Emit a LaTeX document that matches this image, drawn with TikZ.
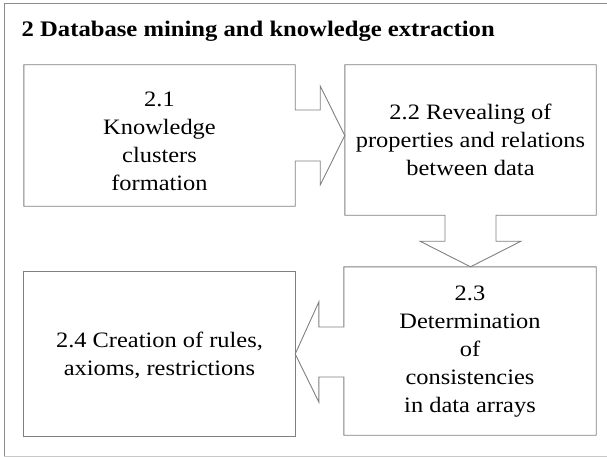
\documentclass[tikz,border=0pt]{standalone}
\usepackage{fontspec}
\setmainfont[FakeStretch=1.11]{Liberation Serif}
\usetikzlibrary{calc}
\definecolor{linegray}{RGB}{128,128,128}
\definecolor{framegray}{RGB}{140,140,140}
\definecolor{lightframe}{RGB}{200,200,200}
\tikzset{
  boxnode/.style={rectangle, draw=none, inner sep=0pt},
  boxtext/.style={inner sep=0pt, align=center, font=\fontsize{22}{28}\selectfont},
  outline/.style={draw=linegray, line width=0.9pt, line join=miter},
}
\begin{document}
\begin{tikzpicture}[x=1pt,y=-1pt]
\useasboundingbox (0,0) rectangle (607,457);
% outer frame
\draw[framegray, line width=1pt] (4,457) -- (4,4) -- (607,4);
\draw[lightframe, line width=1pt] (4,456.5) -- (607,456.5);
% title
\node[anchor=base west, inner sep=0pt, font=\fontsize{22.2}{28}\selectfont\bfseries] (title) at (21.5,37) {2 Database mining and knowledge extraction};
% boxes
\node[boxnode, minimum width=271pt, minimum height=141pt] (b1) at (159.5,135.5) {};
\node[boxnode, minimum width=251pt, minimum height=150pt] (b2) at (470.5,140) {};
\node[boxnode, minimum width=252pt, minimum height=168pt] (b3) at (470,351) {};
\node[boxnode, minimum width=271pt, minimum height=164pt] (b4) at (159.5,354) {};
% texts
\node[boxtext] (t1) at ($(b1.center)+(0,6)$) {2.1\\Knowledge\\clusters\\formation};
\node[boxtext] (t2) at ($(b2.center)+(0,0)$) {2.2 Revealing of\\properties and relations\\between data};
\node[boxtext] (t3) at ($(b3.center)+(0,1)$) {2.3\\Determination\\of\\consistencies\\in data arrays};
\node[boxtext] (t4) at ($(b4.center)+(0,1)$) {2.4 Creation of rules,\\axioms, restrictions};
% box 2.1 with arrow to 2.2
\draw[outline] (b1.north west) -- (b1.north east)
  -- ($(b1.east)+(0,-25.5)$) -- ($(b1.east)+(25,-25.5)$) -- ($(b1.east)+(25,-49.5)$)
  -- (b1.east -| b2.west)
  -- ($(b1.east)+(25,49.5)$) -- ($(b1.east)+(25,25.5)$) -- ($(b1.east)+(0,25.5)$)
  -- (b1.south east) -- (b1.south west) -- cycle;
% box 2.2 with arrow to 2.3
\draw[outline] (b2.north west) -- (b2.north east) -- (b2.south east)
  -- ($(b2.south)+(25.5,0)$) -- ($(b2.south)+(25.5,26)$) -- ($(b2.south)+(50.5,26)$)
  -- (b2.south |- b3.north)
  -- ($(b2.south)+(-50.5,26)$) -- ($(b2.south)+(-25.5,26)$) -- ($(b2.south)+(-25.5,0)$)
  -- (b2.south west) -- cycle;
% box 2.3 with arrow to 2.4
\draw[outline] (b3.north west) -- (b3.north east) -- (b3.south east) -- (b3.south west)
  -- ($(b3.west)+(0,26)$) -- ($(b3.west)+(-25,26)$) -- ($(b3.west)+(-25,51)$)
  -- (b4.east)
  -- ($(b3.west)+(-25,-49)$) -- ($(b3.west)+(-25,-24)$) -- ($(b3.west)+(0,-24)$)
  -- cycle;
% box 2.4
\draw[outline] (b4.north west) rectangle (b4.south east);
\end{tikzpicture}
\end{document}
